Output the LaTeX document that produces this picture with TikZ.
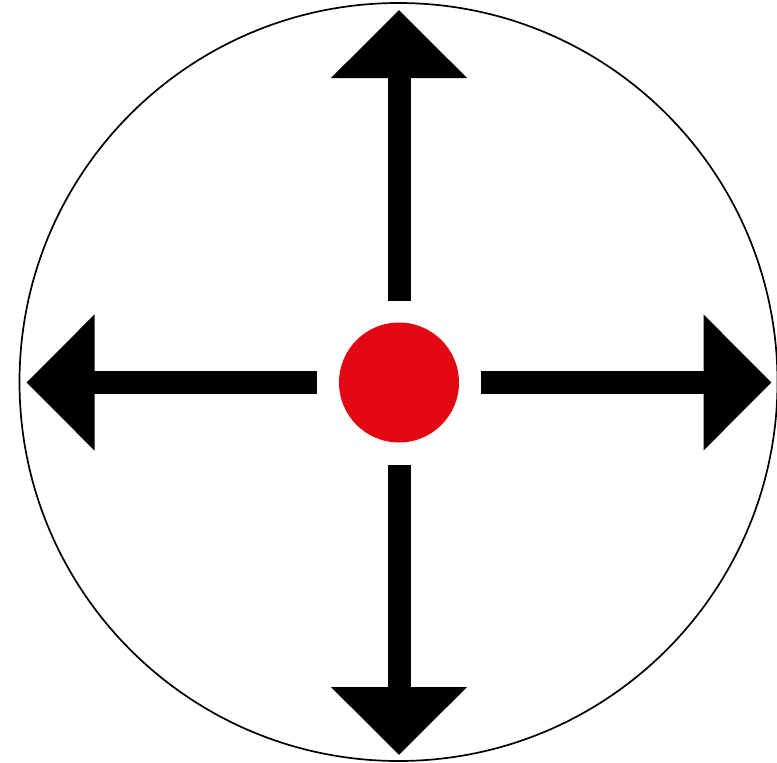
\documentclass[tikz,border=0pt]{standalone}
\usepackage{tikz}
\usetikzlibrary{positioning, arrows.meta}
\definecolor{dotred}{RGB}{227,6,19}

\begin{document}
\begin{tikzpicture}[x=1pt, y=-1pt, >={Triangle[length=68pt, width=132pt]},
            shaft/.style={->, line width=23pt, shorten <=22pt},
            every node/.style={outer sep=0pt}]
        \useasboundingbox (0,0) rectangle (777,763);

        % --- Outer ring ---
        \draw[line width=1.7pt] (398.5,382) circle[radius=379];

        % --- Centre dot ---
        \node[circle, fill=dotred, minimum size=120pt, inner sep=0pt] (dot) at (399,382.5) {};

        % --- Arrow tips ---
        \coordinate[above=312.5pt of dot] (N);
        \coordinate[below=312.5pt of dot] (S);
        \coordinate[left=312.5pt of dot]  (W);
        \coordinate[right=312.5pt of dot] (E);

        % --- Arrows ---
        \foreach \tip in {N, S, W, E}
            \draw[shaft] (dot) -- (\tip);

    \end{tikzpicture}
\end{document}
